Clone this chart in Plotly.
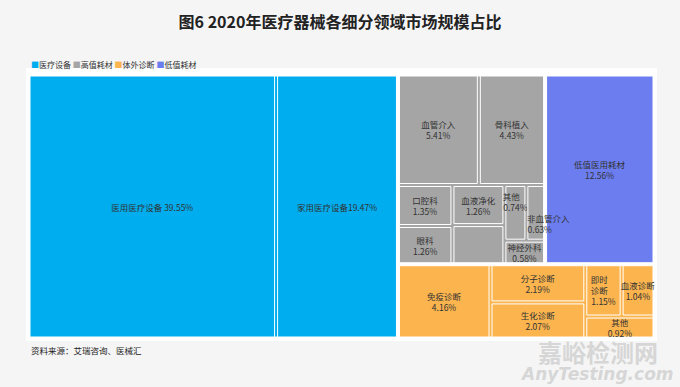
import plotly.graph_objects as go

# ---- data ----
groups = ["医疗设备", "高值耗材", "体外诊断", "低值耗材"]
group_colors = ["#00adef", "#a5a5a5", "#fbb44e", "#6c7def"]

equip_labels = ["医用医疗设备", "家用医疗设备"]
equip_values = [39.55, 19.47]

high_labels = ["血管介入", "骨科植入", "口腔科", "眼科", "血液净化", "其余", "其他", "非血管介入", "神经外科"]
high_values = [5.41, 4.43, 1.35, 1.26, 1.26, 1.23, 0.74, 0.63, 0.58]

ivd_labels = ["免疫诊断", "分子诊断", "生化诊断", "即时诊断", "血液诊断", "其他"]
ivd_values = [4.16, 2.19, 2.07, 1.15, 1.04, 0.92]

low_labels = ["低值医用耗材"]
low_values = [12.56]

FONT = "Noto Sans CJK SC"
SP = "\u3000"  # ideographic space used only to position a few small-tile labels

ids, labels, parents, values, colors, texts = [], [], [], [], [], []

# groups with several sub-segments become parent nodes
for g, c in zip(groups[:3], group_colors[:3]):
    ids.append(g); labels.append(g); parents.append(""); values.append(0)
    colors.append(c); texts.append("")

def add(group, color, labs, vals, fmt, parent=None):
    for l, v in zip(labs, vals):
        ids.append(group + "-" + l)
        labels.append(l)
        parents.append(group if parent is None else parent)
        values.append(v)
        colors.append(color)
        texts.append(fmt(l, v))

add("医疗设备", group_colors[0], equip_labels, equip_values,
    lambda l, v: (f"{l} {v:.2f}%" if l == "医用医疗设备" else f"{l}{v:.2f}%"))

def high_fmt(l, v):
    if l == "其余":
        return ""
    if l == "其他":
        return f"{l}{SP}<br>{v:.2f}%<br>{SP}<br>{SP}"
    if l == "非血管介入":
        return f"{SP}<br>{SP}<br>{SP}{SP}{SP}{l}<br>{SP}{SP}{SP}{v:.2f}%{SP}{SP}"
    return f"{l}<br>{v:.2f}%"
add("高值耗材", group_colors[1], high_labels, high_values, high_fmt)

def ivd_fmt(l, v):
    if l == "即时诊断":
        return f"即时{SP}<br>诊断{SP}<br>{v:.2f}%"
    return f"{l}<br>{v:.2f}%"
add("体外诊断", group_colors[2], ivd_labels, ivd_values, ivd_fmt)

# the single low-value segment sits directly at the top level (same tile)
add("低值耗材", group_colors[3], low_labels, low_values,
    lambda l, v: f"{l}<br>{v:.2f}%", parent="")

fig = go.Figure(go.Treemap(
    ids=ids, labels=labels, parents=parents, values=values,
    branchvalues="remainder",
    text=texts, textinfo="text",
    textposition="middle center",
    textfont=dict(family=FONT, size=8.5, color="#333333"),
    marker=dict(colors=colors, line=dict(color="#ffffff", width=1),
                pad=dict(t=0, l=0, r=0, b=0), depthfade=False),
    tiling=dict(packing="squarify", squarifyratio=1.618),
    pathbar=dict(visible=False),
    sort=True,
    hoverinfo="skip",
))

W, H = 680, 387
L, R, T, B = 30, 27, 76, 50
pw, ph = W - L - R, H - T - B

def px(x):
    return (x - L) / pw

def py(y):
    return 1 - (y - T) / ph

legend_text = "".join(
    f'<span style="color:{c}">■</span>{g} ' for g, c in zip(groups, group_colors)
)

fig.update_layout(
    width=W, height=H,
    margin=dict(l=L, r=R, t=T, b=B),
    paper_bgcolor="#f5f5f5",
    uniformtext=dict(minsize=8.5, mode="show"),
    title=dict(text="<b>图6 2020年医疗器械各细分领域市场规模占比</b>",
               x=0.5, xanchor="center", y=1 - 22 / H, yanchor="middle",
               font=dict(family=FONT, size=16, color="#222222")),
    shapes=[dict(type="rect", xref="paper", yref="paper", layer="below",
                 x0=px(26), x1=px(657), y0=py(341), y1=py(68),
                 fillcolor="#ffffff", line=dict(width=0))],
    annotations=[
        dict(text=legend_text, xref="paper", yref="paper", x=px(29), y=py(64),
             xanchor="left", yanchor="middle", showarrow=False,
             font=dict(family=FONT, size=8, color="#333333")),
        dict(text="资料来源：艾瑞咨询、医械汇", xref="paper", yref="paper",
             x=px(29), y=py(350), xanchor="left", yanchor="middle", showarrow=False,
             font=dict(family=FONT, size=8.5, color="#222222")),
        dict(text="<b>嘉峪检测网</b>", xref="paper", yref="paper",
             x=px(598), y=py(351), xanchor="center", yanchor="middle", showarrow=False,
             font=dict(family=FONT, size=24, color="rgba(200,200,200,0.7)")),
        dict(text="<b><i>AnyTesting.com</i></b>", xref="paper", yref="paper",
             x=px(597), y=py(374), xanchor="center", yanchor="middle", showarrow=False,
             font=dict(family="DejaVu Sans", size=17, color="rgba(200,200,200,0.7)")),
    ],
)

fig.write_html("out.html", config={"displayModeBar": False},
               post_script="document.body.style.margin='0';")
